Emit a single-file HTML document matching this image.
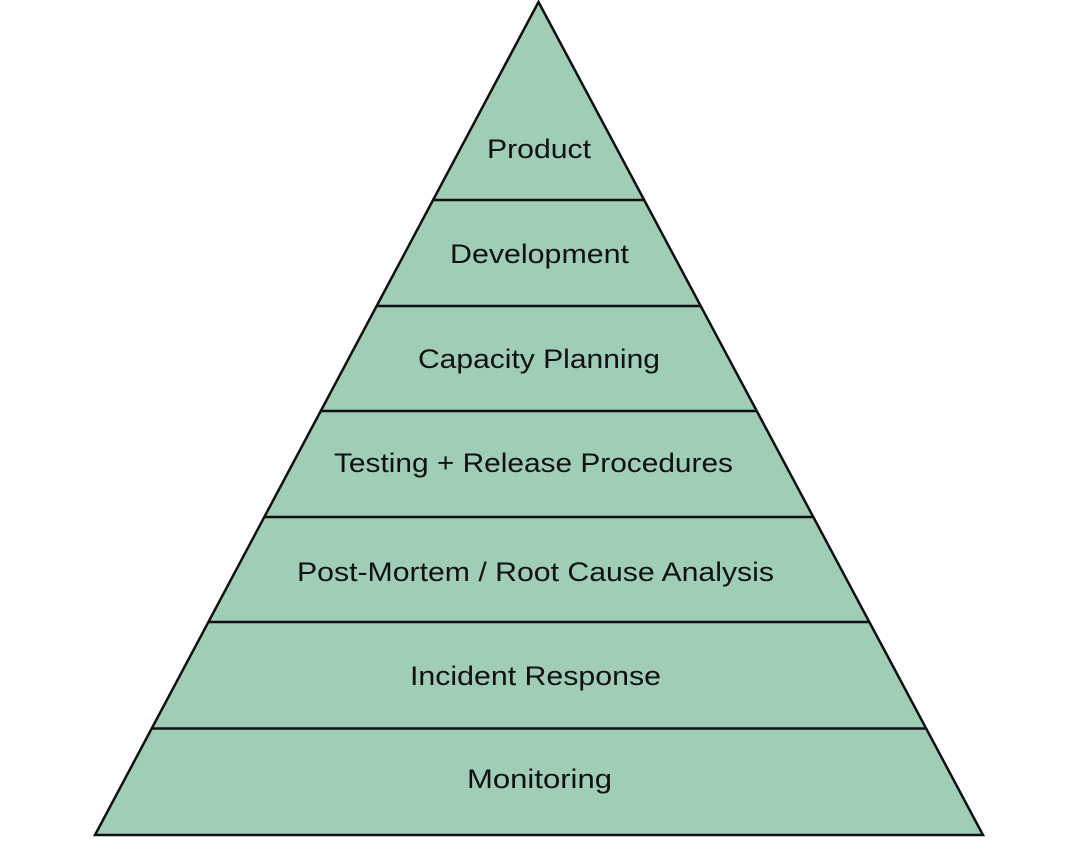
<!DOCTYPE html>
<html><head><style>html,body{margin:0;padding:0;background:#fff;}</style></head>
<body>
<svg width="1077" height="837" viewBox="0 0 1077 837" xmlns="http://www.w3.org/2000/svg">
<polygon points="538.5,2 983,835 95,835" fill="#9fcdb5" stroke="#111" stroke-width="2.5" stroke-linejoin="miter"/>
<g stroke="#111" stroke-width="2.5">
<line x1="432" y1="200" x2="645" y2="200"/>
<line x1="376" y1="306" x2="701" y2="306"/>
<line x1="320" y1="411" x2="757" y2="411"/>
<line x1="264" y1="517" x2="813" y2="517"/>
<line x1="208" y1="622" x2="869" y2="622"/>
<line x1="152" y1="728.5" x2="925" y2="728.5"/>
</g>
<g font-family="Liberation Sans, sans-serif" font-size="27" fill="#111" lengthAdjust="spacingAndGlyphs">
<text x="487" y="158" textLength="104" lengthAdjust="spacingAndGlyphs">Product</text>
<text x="450" y="263" textLength="179" lengthAdjust="spacingAndGlyphs">Development</text>
<text x="418" y="368" textLength="242" lengthAdjust="spacingAndGlyphs">Capacity Planning</text>
<text x="334" y="472" textLength="399" lengthAdjust="spacingAndGlyphs">Testing + Release Procedures</text>
<text x="297" y="581" textLength="477" lengthAdjust="spacingAndGlyphs">Post-Mortem / Root Cause Analysis</text>
<text x="410" y="685" textLength="251" lengthAdjust="spacingAndGlyphs">Incident Response</text>
<text x="467" y="788" textLength="145" lengthAdjust="spacingAndGlyphs">Monitoring</text>
</g>
</svg>
</body></html>
